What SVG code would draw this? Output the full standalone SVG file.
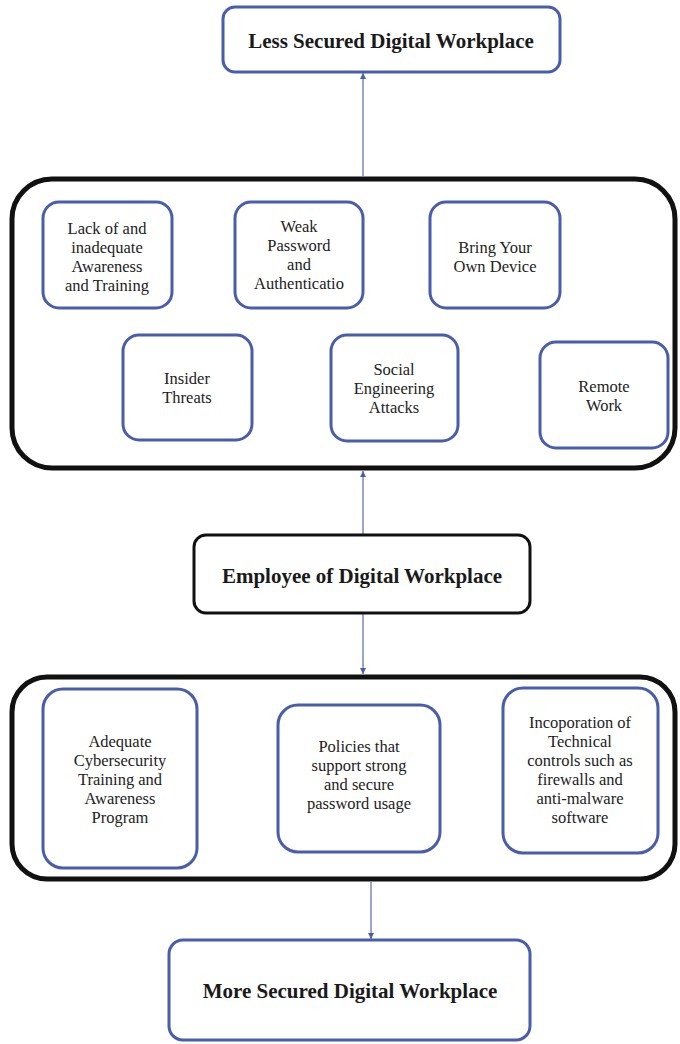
<svg xmlns="http://www.w3.org/2000/svg" width="680" height="1044" viewBox="0 0 680 1044">
<style>
.bl{fill:#fff;stroke:#4a5dab;stroke-width:3}
.bk{fill:#fff;stroke:#111;stroke-width:3}
.ct{fill:none;stroke:#111;stroke-width:5}
.t{font-family:'Liberation Serif','Times New Roman',Times,serif;font-size:16.5px;fill:#222;text-anchor:middle}
.tb{font-family:'Liberation Serif','Times New Roman',Times,serif;font-size:21px;font-weight:bold;fill:#1a1a1a;text-anchor:middle}
.cn{stroke:#7b86c2;stroke-width:1.5;fill:none}
</style>
<defs>
<marker id="ah" viewBox="0 0 10 10" refX="10" refY="5" markerWidth="6" markerHeight="6" orient="auto" markerUnits="userSpaceOnUse">
<path d="M0,0 L10,5 L0,10 z" fill="#4a5dab"/>
</marker>
</defs>
<rect width="680" height="1044" fill="#fff"/>
<g id="container1"><rect class="ct" x="12" y="179" width="663" height="289" rx="40"/></g>
<g id="container2"><rect class="ct" x="12" y="677" width="663" height="202" rx="35"/></g>
<g id="connectors">
<line class="cn" x1="363" y1="177" x2="363" y2="73" marker-end="url(#ah)"/>
<line class="cn" x1="363" y1="535" x2="363" y2="471" marker-end="url(#ah)"/>
<line class="cn" x1="363" y1="614" x2="363" y2="674" marker-end="url(#ah)"/>
<line class="cn" x1="371" y1="882" x2="371" y2="939" marker-end="url(#ah)"/>
</g>
<g id="less"><rect class="bl" x="223" y="7" width="337" height="65" rx="12"/><text class="tb" x="391" y="48">Less Secured Digital Workplace</text></g>
<g id="lack"><rect class="bl" x="43" y="202" width="129" height="106" rx="16"/><text class="t" x="107"><tspan x="107" y="234">Lack of and</tspan><tspan x="107" y="253">inadequate</tspan><tspan x="107" y="272">Awareness</tspan><tspan x="107" y="291">and Training</tspan></text></g>
<g id="weak"><rect class="bl" x="235" y="202" width="128" height="106" rx="16"/><text class="t" x="299"><tspan x="299" y="232">Weak</tspan><tspan x="299" y="251">Password</tspan><tspan x="299" y="270">and</tspan><tspan x="299" y="289">Authenticatio</tspan></text></g>
<g id="byod"><rect class="bl" x="430" y="202" width="130" height="106" rx="16"/><text class="t" x="495"><tspan x="495" y="253">Bring Your</tspan><tspan x="495" y="272">Own Device</tspan></text></g>
<g id="insider"><rect class="bl" x="123" y="335" width="129" height="105" rx="16"/><text class="t" x="187"><tspan x="187" y="384">Insider</tspan><tspan x="187" y="403">Threats</tspan></text></g>
<g id="social"><rect class="bl" x="331" y="335" width="127" height="106" rx="16"/><text class="t" x="394"><tspan x="394" y="375">Social</tspan><tspan x="394" y="394">Engineering</tspan><tspan x="394" y="413">Attacks</tspan></text></g>
<g id="remote"><rect class="bl" x="540" y="342" width="128" height="106" rx="16"/><text class="t" x="604"><tspan x="604" y="392">Remote</tspan><tspan x="604" y="411">Work</tspan></text></g>
<g id="employee"><rect class="bk" x="194" y="535" width="336" height="78" rx="12"/><text class="tb" x="362" y="583">Employee of Digital Workplace</text></g>
<g id="adequate"><rect class="bl" x="43" y="689" width="154" height="179" rx="20"/><text class="t" x="120"><tspan x="120" y="747">Adequate</tspan><tspan x="120" y="766">Cybersecurity</tspan><tspan x="120" y="785">Training and</tspan><tspan x="120" y="804">Awareness</tspan><tspan x="120" y="823">Program</tspan></text></g>
<g id="policies"><rect class="bl" x="278" y="705" width="162" height="147" rx="20"/><text class="t" x="359"><tspan x="359" y="752">Policies that</tspan><tspan x="359" y="771">support strong</tspan><tspan x="359" y="790">and secure</tspan><tspan x="359" y="809">password usage</tspan></text></g>
<g id="technical"><rect class="bl" x="503" y="688" width="155" height="165" rx="20"/><text class="t" x="580"><tspan x="580" y="728">Incoporation of</tspan><tspan x="580" y="747">Technical</tspan><tspan x="580" y="766">controls such as</tspan><tspan x="580" y="785">firewalls and</tspan><tspan x="580" y="804">anti-malware</tspan><tspan x="580" y="823">software</tspan></text></g>
<g id="more"><rect class="bl" x="169" y="940" width="361" height="100" rx="14"/><text class="tb" x="350" y="998">More Secured Digital Workplace</text></g>
</svg>
